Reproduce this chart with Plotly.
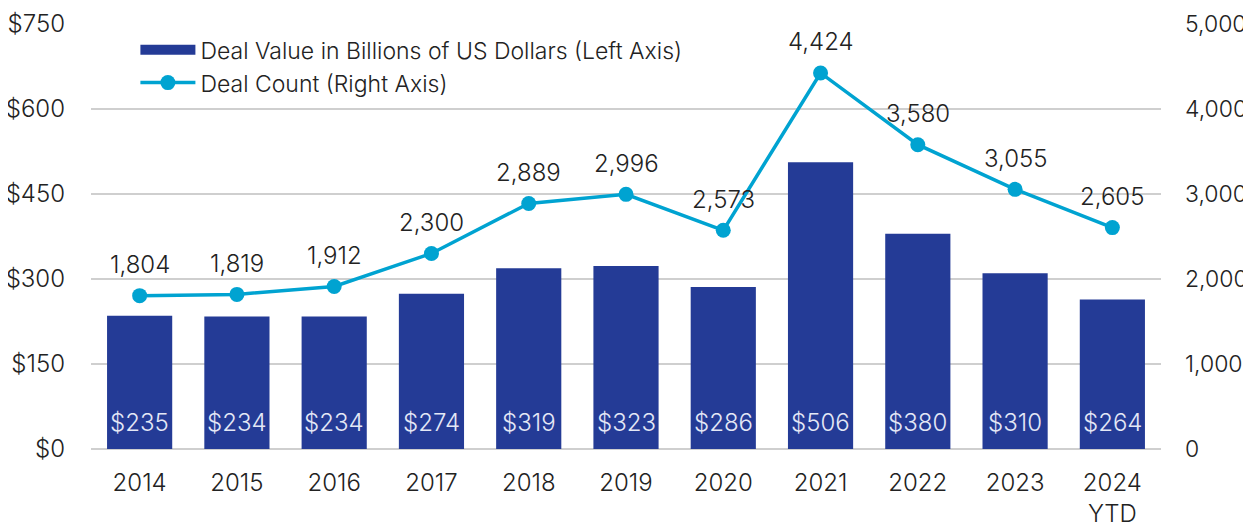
import plotly.graph_objects as go

years = ["2014", "2015", "2016", "2017", "2018", "2019", "2020", "2021", "2022", "2023", "2024<br>YTD"]
deal_value = [235, 234, 234, 274, 319, 323, 286, 506, 380, 310, 264]
deal_count = [1804, 1819, 1912, 2300, 2889, 2996, 2573, 4424, 3580, 3055, 2605]

bar_color = "#243B96"
line_color = "#00A3D1"
font_family = "Inter, Roboto, sans-serif"
txt_color = "#222222"
fsize = 24

fig = go.Figure()

fig.add_trace(go.Bar(
    x=years, y=deal_value,
    marker=dict(color=bar_color, line=dict(width=0)),
    showlegend=False, hoverinfo="skip",
))

# legend stand-in for the bars (wide swatch)
fig.add_trace(go.Scatter(
    x=[None], y=[None], mode="lines",
    line=dict(color=bar_color, width=16),
    name="Deal Value in Billions of US Dollars (Left Axis)",
))

fig.add_trace(go.Scatter(
    x=years, y=deal_count, yaxis="y2", mode="lines+markers",
    line=dict(color=line_color, width=3.5),
    marker=dict(color=line_color, size=15),
    name="Deal Count (Right Axis)",
))

# labels: category index used for x, since the year names look numeric
for i, (v, c) in enumerate(zip(deal_value, deal_count)):
    fig.add_annotation(x=i, y=c, yref="y2", text=f"{c:,}", showarrow=False,
                       yshift=31, font=dict(size=fsize, color=txt_color, family=font_family, weight=300))
    fig.add_annotation(x=i, y=0, yref="y", text=f"${v}", showarrow=False,
                       yanchor="bottom", yshift=10,
                       font=dict(size=fsize, color="#E4E8F6", family=font_family, weight=300))

# page body adds ~8px offset, so margins are shifted to compensate
fig.update_layout(
    width=1251, height=525,
    margin=dict(l=83, r=98, t=16, b=84),
    paper_bgcolor="white", plot_bgcolor="white",
    font=dict(family=font_family, size=fsize, color=txt_color, weight=300),
    bargap=0.33,
    legend=dict(x=0.0415, y=0.99, xanchor="left", yanchor="top",
                bgcolor="rgba(255,255,255,0)", itemwidth=55,
                font=dict(size=23, color=txt_color, weight=300), tracegroupgap=4),
    xaxis=dict(type="category", range=[-0.5, len(years) - 0.5], showgrid=False, showline=False,
               ticks="", automargin=False, ticklabelstandoff=17, tickfont=dict(size=fsize)),
    yaxis=dict(range=[0, 750], dtick=150, tickprefix="$", showgrid=True, automargin=False,
               gridcolor="#CFCFCF", gridwidth=1.5, zeroline=True, zerolinecolor="#CFCFCF",
               zerolinewidth=1.5, ticklabelstandoff=25, tickfont=dict(size=fsize)),
    yaxis2=dict(range=[0, 5000], dtick=1000, overlaying="y", side="right", automargin=False,
                showgrid=False, zeroline=False, tickformat=",",
                ticklabelstandoff=23, tickfont=dict(size=23)),
)

fig.write_html("out.html")
